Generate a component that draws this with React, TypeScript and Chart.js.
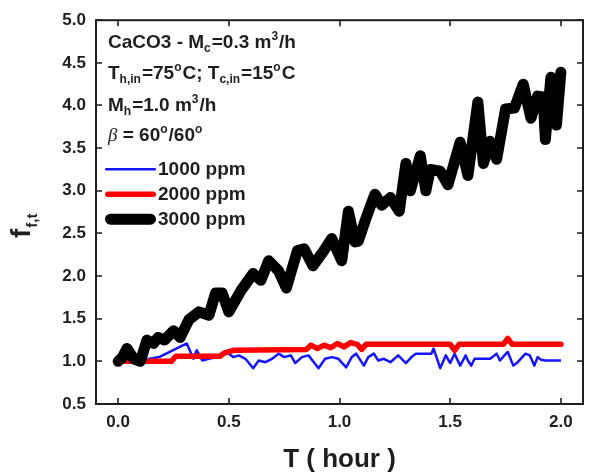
import React, { useEffect, useRef } from "react";
import { Chart, registerables } from "chart.js";

Chart.register(...registerables);

// Fouling factor f_f,t versus time for three CaCO3 concentrations
const hours3000 = [
  0.0, 0.02, 0.04, 0.07, 0.1, 0.13, 0.16, 0.18, 0.21, 0.25, 0.28, 0.32, 0.365,
  0.41, 0.44, 0.47, 0.5, 0.555, 0.61, 0.645, 0.68, 0.725, 0.76, 0.81, 0.84, 0.88,
  0.93, 0.965, 1.01, 1.04, 1.07, 1.085, 1.12, 1.16, 1.19, 1.23, 1.27, 1.3, 1.32,
  1.365, 1.39, 1.41, 1.455, 1.49, 1.545, 1.58, 1.625, 1.65, 1.68, 1.71, 1.75,
  1.79, 1.83, 1.865, 1.895, 1.92, 1.93, 1.955, 1.98, 2.0,
];
const ff3000 = [
  1.0, 1.05, 1.15, 1.03, 1.0, 1.25, 1.21, 1.28, 1.25, 1.36, 1.28, 1.49, 1.58,
  1.54, 1.8, 1.8, 1.58, 1.83, 2.03, 1.95, 2.18, 2.06, 1.86, 2.3, 2.32, 2.12,
  2.3, 2.44, 2.18, 2.76, 2.4, 2.41, 2.68, 2.96, 2.83, 2.92, 2.76, 3.32, 3.0,
  3.41, 3.0, 3.25, 3.23, 3.07, 3.57, 3.18, 4.04, 3.32, 3.58, 3.37, 3.96,
  3.97, 4.25, 3.85, 4.11, 4.1, 3.6, 4.33, 3.77, 4.39,
];

const hours2000 = [
  0.0, 0.24, 0.26, 0.46, 0.48, 0.52, 0.85, 0.87, 0.9, 0.93, 0.96, 0.99, 1.02,
  1.05, 1.08, 1.1, 1.12, 1.5, 1.52, 1.54, 1.74, 1.76, 1.78, 2.0,
];
const ff2000 = [
  1.0, 1.0, 1.06, 1.06, 1.1, 1.13, 1.14, 1.19, 1.15, 1.19, 1.16, 1.21, 1.17,
  1.22, 1.2, 1.14, 1.2, 1.2, 1.13, 1.2, 1.2, 1.27, 1.2, 1.2,
];

const hours1000 = [
  0.0, 0.05, 0.1, 0.185, 0.31, 0.34, 0.355, 0.38, 0.41, 0.44, 0.47, 0.5, 0.52,
  0.545, 0.575, 0.61, 0.635, 0.665, 0.695, 0.725, 0.75, 0.78, 0.8, 0.83, 0.86,
  0.905, 0.935, 0.965, 0.995, 1.03, 1.055, 1.075, 1.11, 1.13, 1.155, 1.175, 1.2,
  1.23, 1.265, 1.3, 1.325, 1.345, 1.415, 1.425, 1.455, 1.48, 1.5, 1.52, 1.545,
  1.57, 1.58, 1.595, 1.61, 1.68, 1.71, 1.725, 1.745, 1.76, 1.785, 1.805, 1.84,
  1.86, 1.88, 1.895, 1.91, 1.93, 2.0,
];
const ff1000 = [
  1.0, 1.0, 1.01, 1.05, 1.21, 1.03, 1.13, 1.01, 1.03, 1.05, 1.09, 1.09, 1.05,
  1.07, 1.03, 0.92, 1.01, 0.99, 1.03, 1.09, 1.05, 1.07, 0.98, 1.05, 1.07,
  0.92, 1.03, 1.05, 1.03, 0.93, 1.05, 1.09, 0.95, 1.05, 1.09, 1.01, 1.03,
  0.99, 1.07, 0.98, 1.05, 1.09, 1.09, 1.15, 0.92, 1.07, 0.98, 1.09, 0.95,
  1.07, 1.01, 0.95, 1.03, 1.03, 1.09, 1.01, 1.07, 1.11, 0.95, 0.99, 1.09,
  1.07, 0.95, 1.05, 1.02, 1.01, 1.01,
];

const xTicks = [0, 0.5, 1.0, 1.5, 2.0];
const yTicks = [0.5, 1.0, 1.5, 2.0, 2.5, 3.0, 3.5, 4.0, 4.5, 5.0];
const seriesLabels = ["1000 ppm", "2000 ppm", "3000 ppm"];
const seriesColors = ["#1414ff", "#ff0000", "#000000"];
const seriesWidths = [2.5, 5.5, 11];

const SANS = '"Liberation Sans", Arial, Helvetica, sans-serif';
const INK = "#1e1e1e";

type Part = [string, "n" | "sub" | "sup" | "greek"];

function drawRich(ctx: CanvasRenderingContext2D, x: number, y: number, parts: Part[], size: number) {
  let cx = x;
  const small = Math.round(size * 0.62);
  for (const [text, kind] of parts) {
    let dy = 0;
    if (kind === "n") ctx.font = `bold ${size}px ${SANS}`;
    else if (kind === "greek") ctx.font = `italic ${size}px "Liberation Serif", "DejaVu Serif", serif`;
    else ctx.font = `bold ${small}px ${SANS}`;
    if (kind === "sub") dy = size * 0.2;
    if (kind === "sup") dy = -size * 0.45;
    ctx.fillText(text, cx, y + dy);
    cx += ctx.measureText(text).width + (kind === "sub" || kind === "sup" ? 1 : 0);
  }
}

const framePlugin = {
  id: "frameTicks",
  afterDatasetsDraw(chart: any) {
    const { ctx, chartArea } = chart;
    const { left, right, top, bottom } = chartArea;
    const xs = chart.scales.x;
    const ys = chart.scales.y;
    ctx.save();
    ctx.strokeStyle = INK;
    ctx.lineWidth = 2;
    ctx.strokeRect(left, top, right - left, bottom - top);
    ctx.lineWidth = 1.6;
    const tl = 6;
    ctx.beginPath();
    for (const v of xTicks) {
      const px = Math.round(xs.getPixelForValue(v));
      ctx.moveTo(px, bottom);
      ctx.lineTo(px, bottom - tl);
      ctx.moveTo(px, top);
      ctx.lineTo(px, top + tl);
    }
    for (const v of yTicks) {
      const py = Math.round(ys.getPixelForValue(v));
      ctx.moveTo(left, py);
      ctx.lineTo(left + tl, py);
      ctx.moveTo(right, py);
      ctx.lineTo(right - tl, py);
    }
    ctx.stroke();

    // Axis titles
    ctx.fillStyle = INK;
    ctx.textBaseline = "alphabetic";
    ctx.textAlign = "center";
    ctx.font = `bold 26px ${SANS}`;
    ctx.fillText("T ( hour )", (left + right) / 2, 467);

    ctx.save();
    ctx.translate(30, 238);
    ctx.rotate(-Math.PI / 2);
    ctx.textAlign = "left";
    ctx.font = `bold 28px ${SANS}`;
    ctx.fillText("f", 0, 0);
    const fw = ctx.measureText("f").width;
    ctx.font = `bold 15px ${SANS}`;
    ctx.fillText("f,t", fw + 1, 7);
    ctx.restore();

    // Test conditions block
    const tx = left + 12;
    const size = 19;
    ctx.textAlign = "left";
    drawRich(ctx, tx, top + 28, [["CaCO3 - M", "n"], ["c", "sub"], ["=0.3 m", "n"], ["3", "sup"], ["/h", "n"]], size);
    drawRich(ctx, tx, top + 59, [["T", "n"], ["h,in", "sub"], ["=75", "n"], ["o", "sup"], ["C; T", "n"], ["c,in", "sub"], ["=15", "n"], ["o", "sup"], ["C", "n"]], size);
    drawRich(ctx, tx, top + 91, [["M", "n"], ["h", "sub"], ["=1.0 m", "n"], ["3", "sup"], ["/h", "n"]], size);
    drawRich(ctx, tx, top + 121, [["\u03b2", "greek"], [" = 60", "n"], ["o", "sup"], ["/60", "n"], ["o", "sup"]], size);

    // Series key
    const keyY = [top + 149, top + 174, top + 199];
    for (let i = 0; i < 3; i++) {
      ctx.strokeStyle = seriesColors[i];
      ctx.lineWidth = seriesWidths[i];
      ctx.lineCap = "round";
      ctx.beginPath();
      const inset = seriesWidths[i] / 2;
      ctx.moveTo(left + 9 + inset, keyY[i]);
      ctx.lineTo(left + 60 - inset, keyY[i]);
      ctx.stroke();
      ctx.fillStyle = INK;
      ctx.font = `bold ${size}px ${SANS}`;
      ctx.textBaseline = "middle";
      ctx.fillText(seriesLabels[i], left + 62, keyY[i] + 1);
      ctx.textBaseline = "alphabetic";
    }
    ctx.restore();
  },
};

export default function App() {
  const canvasRef = useRef<HTMLCanvasElement | null>(null);

  useEffect(() => {
    const canvas = canvasRef.current;
    if (!canvas) return;
    const toPoints = (xs: number[], ys: number[]) => xs.map((x, i) => ({ x, y: ys[i] }));
    const chart = new Chart(canvas, {
      type: "line",
      data: {
        datasets: [
          {
            label: seriesLabels[2],
            data: toPoints(hours3000, ff3000),
            borderColor: seriesColors[2],
            borderWidth: seriesWidths[2],
            borderJoinStyle: "round",
            borderCapStyle: "round",
            pointRadius: 0,
            tension: 0,
            order: 0,
          },
          {
            label: seriesLabels[1],
            data: toPoints(hours2000, ff2000),
            borderColor: seriesColors[1],
            borderWidth: seriesWidths[1],
            borderJoinStyle: "round",
            borderCapStyle: "round",
            pointRadius: 0,
            tension: 0,
            order: 1,
          },
          {
            label: seriesLabels[0],
            data: toPoints(hours1000, ff1000),
            borderColor: seriesColors[0],
            borderWidth: seriesWidths[0],
            borderJoinStyle: "round",
            pointRadius: 0,
            tension: 0,
            order: 2,
          },
        ],
      },
      options: {
        responsive: false,
        animation: false,
        layout: { padding: { top: 19, right: 10, left: 0, bottom: 0 } },
        plugins: { legend: { display: false }, tooltip: { enabled: false } },
        scales: {
          x: {
            type: "linear",
            min: -0.1,
            max: 2.1,
            grid: { display: false, drawTicks: false },
            border: { display: false },
            afterBuildTicks: (scale: any) => {
              scale.ticks = xTicks.map((value) => ({ value }));
            },
            afterFit: (scale: any) => {
              scale.height = 68;
            },
            ticks: {
              padding: 8,
              color: INK,
              font: { family: SANS, size: 17, weight: "bold" },
              callback: (v: any) => Number(v).toFixed(1),
            },
          },
          y: {
            type: "linear",
            min: 0.5,
            max: 5.0,
            grid: { display: false, drawTicks: false },
            border: { display: false },
            afterBuildTicks: (scale: any) => {
              scale.ticks = yTicks.map((value) => ({ value }));
            },
            afterFit: (scale: any) => {
              scale.width = 96;
            },
            ticks: {
              padding: 10,
              color: INK,
              font: { family: SANS, size: 17, weight: "bold" },
              callback: (v: any) => Number(v).toFixed(1),
            },
          },
        },
      },
      plugins: [framePlugin],
    });
    return () => chart.destroy();
  }, []);

  return (
    <div style={{ position: "absolute", left: 0, top: 0, width: 593, height: 472, background: "#fff" }}>
      <canvas ref={canvasRef} width={593} height={472} />
    </div>
  );
}
